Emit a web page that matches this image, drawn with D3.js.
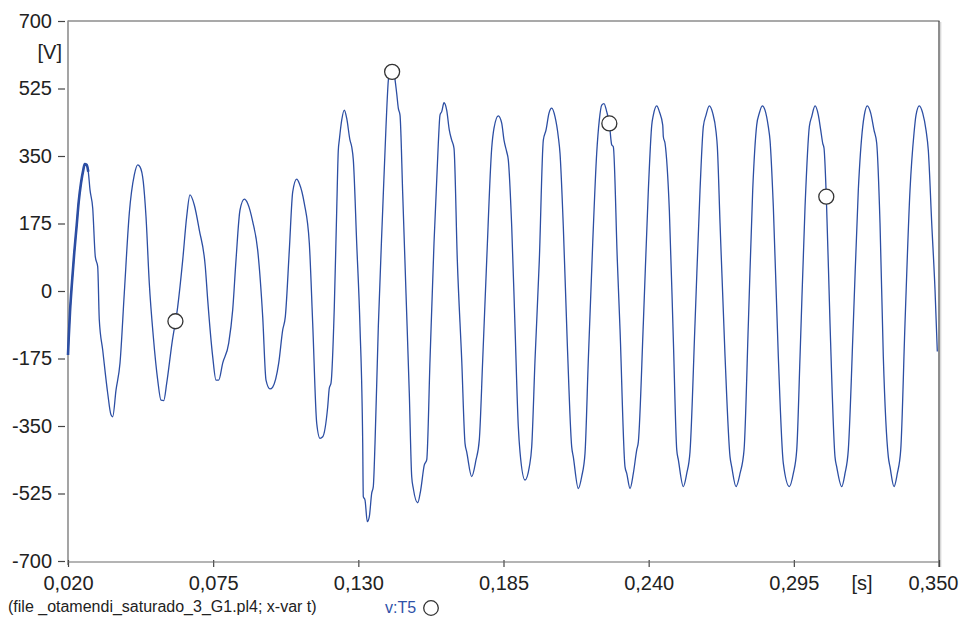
<!DOCTYPE html>
<html>
<head>
<meta charset="utf-8">
<script src="https://cdn.jsdelivr.net/npm/d3@7"></script>
<style>
  html, body { margin: 0; padding: 0; background: #fff; }
  svg { display: block; }
  text { font-family: "Liberation Sans", Arial, sans-serif; }
</style>
</head>
<body>
<svg id="chart" width="966" height="622"></svg>
<script>
// ---- data ----
const xTicks = [0.020, 0.075, 0.130, 0.185, 0.240, 0.295, 0.350];
const xTickLabels = ["0,020", "0,075", "0,130", "0,185", "0,240", "0,295", "0,350"];
const yTicks = [700, 525, 350, 175, 0, -175, -350, -525, -700];
const yTickLabels = ["700", "525", "350", "175", "0", "-175", "-350", "-525", "-700"];
const xUnit = "[s]";
const yUnit = "[V]";
const footerText = "(file _otamendi_saturado_3_G1.pl4; x-var t)";
const seriesName = "v:T5";

const timeS = [
  0.02000,0.02027,0.02076,0.02152,0.02239,0.02330,0.02405,0.02493,0.02580,0.02633,
  0.02708,0.02769,0.02834,0.02936,0.03034,0.03125,0.03186,0.03315,0.03504,0.03629,
  0.03694,0.03819,0.03970,0.04133,0.04323,0.04512,0.04641,0.04728,0.04853,0.04955,
  0.05080,0.05232,0.05399,0.05524,0.05626,0.05740,0.05940,0.06156,0.06346,0.06497,
  0.06622,0.06785,0.06975,0.07202,0.07293,0.07482,0.07607,0.07710,0.07861,0.08089,
  0.08240,0.08365,0.08517,0.08680,0.08808,0.08998,0.09187,0.09377,0.09502,0.09653,
  0.09756,0.09983,0.10135,0.10233,0.10385,0.10514,0.10665,0.10764,0.10953,0.11143,
  0.11271,0.11423,0.11548,0.11650,0.11840,0.11900,0.11965,0.12090,0.12181,0.12241,
  0.12279,0.12370,0.12468,0.12559,0.12684,0.12749,0.12810,0.12938,0.13063,0.13166,
  0.13188,0.13253,0.13340,0.13416,0.13507,0.13567,0.13632,0.13757,0.13923,0.14048,
  0.14135,0.14200,0.14351,0.14454,0.14514,0.14579,0.14681,0.14806,0.14931,0.15022,
  0.15083,0.15249,0.15363,0.15500,0.15591,0.15716,0.15867,0.16030,0.16094,0.16159,
  0.16246,0.16348,0.16447,0.16538,0.16625,0.16750,0.16917,0.17042,0.17106,0.17295,
  0.17458,0.17583,0.17712,0.17864,0.18053,0.18140,0.18303,0.18432,0.18519,0.18621,
  0.18682,0.18811,0.18936,0.19061,0.19125,0.19315,0.19478,0.19569,0.19694,0.19857,
  0.20009,0.20110,0.20224,0.20326,0.20451,0.20576,0.20641,0.20766,0.20917,0.21084,
  0.21145,0.21334,0.21463,0.21588,0.21713,0.21880,0.22031,0.22130,0.22221,0.22308,
  0.22410,0.22509,0.22600,0.22661,0.22812,0.22915,0.23104,0.23169,0.23294,0.23419,
  0.23548,0.23609,0.23798,0.23988,0.24117,0.24177,0.24306,0.24405,0.24533,0.24556,
  0.24620,0.24783,0.24935,0.25064,0.25125,0.25314,0.25443,0.25566,0.25756,0.25946,
  0.26071,0.26173,0.26298,0.26427,0.26553,0.26602,0.26704,0.26894,0.27083,0.27147,
  0.27310,0.27462,0.27614,0.27777,0.27942,0.28093,0.28192,0.28306,0.28408,0.28533,
  0.28598,0.28723,0.28912,0.29102,0.29330,0.29481,0.29610,0.29735,0.29925,0.30087,
  0.30178,0.30303,0.30429,0.30519,0.30595,0.30644,0.30731,0.30871,0.31060,0.31125,
  0.31314,0.31439,0.31564,0.31754,0.31943,0.32110,0.32170,0.32284,0.32413,0.32538,
  0.32640,0.32765,0.32890,0.33080,0.33144,0.33296,0.33421,0.33550,0.33712,0.33902,
  0.34053,0.34129,0.34254,0.34383,0.34508,0.34595,0.34724,0.34849,0.34936
];
const voltV = [
  -166,-122,-54,23,101,171,231,280,314,329,
  327,309,262,215,89,63,-75,-153,-265,-321,
  -326,-257,-187,-5,202,301,327,322,283,193,
  20,-118,-231,-283,-284,-239,-135,-41,80,193,
  249,223,158,63,-23,-170,-231,-231,-187,-135,
  -49,80,210,238,227,180,106,-67,-231,-254,
  -249,-187,-101,-67,106,257,290,279,227,124,
  -84,-343,-382,-378,-300,-252,-239,-41,210,365,
  391,443,469,448,391,374,340,124,-93,-395,
  -533,-542,-598,-585,-524,-507,-395,-93,210,426,
  545,575,562,512,474,456,253,-6,-265,-481,
  -512,-549,-516,-451,-438,-179,124,383,456,465,
  488,469,417,391,370,80,-179,-395,-417,-481,
  -438,-386,-179,80,370,422,454,435,391,361,
  340,167,-93,-352,-417,-490,-456,-404,-179,80,
  391,417,461,474,452,400,357,167,-136,-404,
  -430,-512,-481,-421,-179,124,357,443,482,486,
  465,435,379,374,80,-100,-456,-473,-512,-473,
  -412,-391,-84,262,430,456,480,465,430,400,
  383,210,-127,-412,-438,-507,-473,-417,-84,262,
  426,456,480,461,413,374,176,-170,-430,-456,
  -507,-473,-412,-84,262,430,461,480,469,426,
  391,219,-170,-447,-507,-473,-412,-170,219,426,
  452,480,456,417,383,370,243,-84,-430,-456,
  -507,-473,-412,-84,262,426,456,480,461,417,
  383,176,-170,-430,-456,-507,-473,-412,-84,262,
  409,456,480,461,417,365,176,3,-157
];
// marker positions along the curve (time, s)
const markerTimes = [0.0607, 0.1428, 0.2251, 0.3073];

(function () {
  // ---- layout ----
  const svg = d3.select("#chart");
  const pL = 68, pR = 939, pT = 21, pB = 561, axisY = 562;
  const lineColor = "#2c4ea3";

  const x = d3.scaleLinear().domain([0.020, 0.350]).range([pL, pR]);
  const y = d3.scaleLinear().domain([-700, 700]).range([pB, pT]);

  const data = timeS.map((t, i) => ({ t, v: voltV[i] }));

  // frame: top and right borders
  svg.append("line").attr("x1", pL).attr("x2", pR + 0.5).attr("y1", pT).attr("y2", pT)
    .attr("stroke", "#555").attr("stroke-width", 1.2);
  svg.append("line").attr("x1", pR + 1.6).attr("x2", pR + 1.6).attr("y1", pT + 1).attr("y2", axisY + 5)
    .attr("stroke", "#d8d8d8").attr("stroke-width", 1.5);
  svg.append("line").attr("x1", pR).attr("x2", pR).attr("y1", pT).attr("y2", axisY + 5)
    .attr("stroke", "#444").attr("stroke-width", 1.2);

  // y axis
  const yAxis = d3.axisLeft(y).tickValues(yTicks)
    .tickFormat((d, i) => yTickLabels[i]).tickSize(7).tickPadding(6);
  const gy = svg.append("g").attr("transform", `translate(${pL - 3},0)`).call(yAxis);
  gy.select(".domain").remove();
  gy.selectAll(".tick line").attr("stroke", "#444").attr("stroke-width", 1.2);
  gy.selectAll(".tick text").attr("font-size", 20).attr("fill", "#222")
    .attr("font-family", "Liberation Sans, Arial, sans-serif");
  svg.append("line").attr("x1", pL).attr("x2", pL).attr("y1", pT - 0.5).attr("y2", axisY + 3)
    .attr("stroke", "#8e8e8e").attr("stroke-width", 1.6);

  // x axis
  const xAxis = d3.axisBottom(x).tickValues(xTicks)
    .tickFormat((d, i) => xTickLabels[i]).tickSize(0).tickPadding(14);
  const gx = svg.append("g").attr("transform", `translate(0,${axisY})`).call(xAxis);
  gx.select(".domain").remove();
  gx.selectAll(".tick text").attr("font-size", 20).attr("fill", "#222")
    .attr("font-family", "Liberation Sans, Arial, sans-serif");
  gx.selectAll(".tick").filter((d, i) => i === xTicks.length - 1).select("text")
    .attr("text-anchor", "end").attr("dx", 19);
  gx.selectAll(".tick").append("line").attr("y1", -2).attr("y2", 5)
    .attr("stroke", "#444").attr("stroke-width", 1.2);
  svg.append("line").attr("x1", pL).attr("x2", pR).attr("y1", axisY).attr("y2", axisY)
    .attr("stroke", "#6a6a6a").attr("stroke-width", 1.2);

  // unit labels
  svg.append("text").attr("x", 62).attr("y", 59).attr("text-anchor", "end")
    .attr("font-size", 20).attr("fill", "#222").text(yUnit);
  svg.append("text").attr("x", 862).attr("y", 590).attr("text-anchor", "middle")
    .attr("font-size", 20).attr("fill", "#222").text(xUnit);

  // series line
  const lineGen = d3.line().x(d => x(d.t)).y(d => y(d.v)).curve(d3.curveMonotoneX);
  svg.append("path").datum(data).attr("d", lineGen)
    .attr("fill", "none").attr("stroke", lineColor).attr("stroke-width", 1.3)
    .attr("stroke-linejoin", "round");
  // dense start (thicker staircase region)
  svg.append("path").datum(data.filter(d => d.t <= 0.0278)).attr("d", lineGen)
    .attr("fill", "none").attr("stroke", lineColor).attr("stroke-width", 2.6);

  // markers
  const bis = d3.bisector(d => d.t).left;
  function valueAt(t) {
    const i = Math.max(1, Math.min(data.length - 1, bis(data, t)));
    const a = data[i - 1], b = data[i];
    return a.v + (b.v - a.v) * (t - a.t) / (b.t - a.t);
  }
  svg.selectAll("circle.mk").data(markerTimes).enter().append("circle")
    .attr("class", "mk")
    .attr("cx", d => x(d)).attr("cy", d => y(valueAt(d))).attr("r", 7.5)
    .attr("fill", "#fff").attr("stroke", "#333").attr("stroke-width", 1.3);

  // footer
  svg.append("text").attr("x", 8).attr("y", 612).attr("font-size", 16).attr("fill", "#222")
    .text(footerText);
  svg.append("text").attr("x", 385).attr("y", 613).attr("font-size", 16).attr("fill", "#2f52a8")
    .text(seriesName);
  svg.append("circle").attr("cx", 431).attr("cy", 608).attr("r", 7.3)
    .attr("fill", "#fff").attr("stroke", "#333").attr("stroke-width", 1.3);
})();
</script>
</body>
</html>
